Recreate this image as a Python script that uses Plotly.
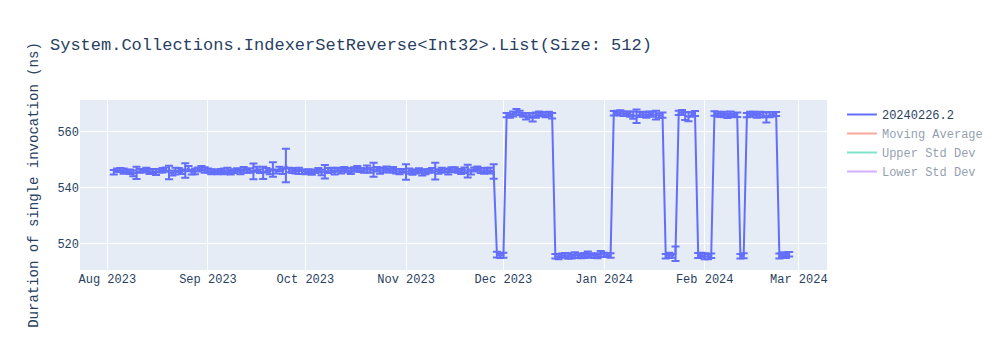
import plotly.graph_objects as go
import pandas as pd

# Dates of each benchmark run
dates = [
    "2023-08-03","2023-08-04","2023-08-05","2023-08-06","2023-08-07","2023-08-08","2023-08-09","2023-08-10",
    "2023-08-11","2023-08-12","2023-08-13","2023-08-14","2023-08-15","2023-08-16","2023-08-17","2023-08-18",
    "2023-08-19","2023-08-20","2023-08-21","2023-08-22","2023-08-23","2023-08-24","2023-08-25","2023-08-26",
    "2023-08-27","2023-08-28","2023-08-29","2023-08-30","2023-08-31",
    "2023-09-01","2023-09-02","2023-09-03","2023-09-04","2023-09-05","2023-09-06","2023-09-07","2023-09-08",
    "2023-09-09","2023-09-10","2023-09-11","2023-09-12","2023-09-13","2023-09-14","2023-09-15","2023-09-16",
    "2023-09-17","2023-09-18","2023-09-19","2023-09-20","2023-09-21","2023-09-22","2023-09-23","2023-09-24",
    "2023-09-25","2023-09-26","2023-09-27","2023-09-28","2023-09-29","2023-09-30",
    "2023-10-01","2023-10-02","2023-10-03","2023-10-04","2023-10-05","2023-10-06","2023-10-07","2023-10-08",
    "2023-10-09","2023-10-10","2023-10-11","2023-10-12","2023-10-13","2023-10-14","2023-10-15","2023-10-16",
    "2023-10-17","2023-10-18","2023-10-19","2023-10-20","2023-10-21","2023-10-22","2023-10-23","2023-10-24",
    "2023-10-25","2023-10-26","2023-10-27","2023-10-28","2023-10-29","2023-10-30","2023-10-31",
    "2023-11-01","2023-11-02","2023-11-03","2023-11-04","2023-11-05","2023-11-06","2023-11-07","2023-11-08",
    "2023-11-09","2023-11-10","2023-11-11","2023-11-12","2023-11-13","2023-11-14","2023-11-15","2023-11-16",
    "2023-11-17","2023-11-18","2023-11-19","2023-11-20","2023-11-21","2023-11-22","2023-11-23","2023-11-24",
    "2023-11-25","2023-11-26","2023-11-27","2023-11-28",
    "2023-11-29","2023-11-30","2023-12-01",
    "2023-12-02","2023-12-03","2023-12-04","2023-12-05","2023-12-06","2023-12-07","2023-12-08","2023-12-09",
    "2023-12-10","2023-12-11","2023-12-12","2023-12-13","2023-12-14","2023-12-15","2023-12-16",
    "2023-12-17","2023-12-18","2023-12-19","2023-12-20","2023-12-21","2023-12-22","2023-12-23","2023-12-24",
    "2023-12-25","2023-12-26","2023-12-27","2023-12-28","2023-12-29","2023-12-30","2023-12-31","2024-01-01",
    "2024-01-02","2024-01-03",
    "2024-01-04","2024-01-05","2024-01-06","2024-01-07","2024-01-08","2024-01-09","2024-01-10","2024-01-11",
    "2024-01-12","2024-01-13","2024-01-14","2024-01-15","2024-01-16","2024-01-17","2024-01-18","2024-01-19",
    "2024-01-20","2024-01-21","2024-01-22","2024-01-23",
    "2024-01-24","2024-01-25","2024-01-26","2024-01-27","2024-01-28","2024-01-29",
    "2024-01-30","2024-01-31","2024-02-01","2024-02-02","2024-02-03",
    "2024-02-04","2024-02-05","2024-02-06","2024-02-07","2024-02-08","2024-02-09","2024-02-10","2024-02-11",
    "2024-02-12","2024-02-13",
    "2024-02-14","2024-02-15","2024-02-16","2024-02-17","2024-02-18","2024-02-19","2024-02-20","2024-02-21",
    "2024-02-22","2024-02-23",
    "2024-02-24","2024-02-25","2024-02-26","2024-02-27",
]

# Mean duration (ns)
values = [
    # Aug
    545.6,546.3,546.4,546.0,545.9,545.8,545.2,545.4,546.1,546.2,546.4,545.9,546.0,545.7,546.1,546.3,
    546.6,545.5,545.3,546.0,546.4,545.8,546.2,546.9,545.6,545.9,546.6,547.0,546.4,
    # Sep
    546.2,545.8,546.0,545.7,546.1,545.9,546.3,545.6,546.0,546.4,545.8,546.5,546.1,546.2,545.9,546.7,
    546.0,545.4,546.3,545.8,546.6,545.9,546.8,546.0,548.0,546.4,546.2,545.9,546.1,545.8,
    # Oct
    545.7,546.0,545.6,545.9,546.3,545.5,545.8,546.2,546.4,545.9,546.5,546.1,546.7,546.3,546.0,546.6,
    546.9,546.4,546.2,546.8,546.3,546.5,546.7,546.1,546.4,546.9,546.2,546.5,546.0,545.8,546.1,
    # Nov
    545.7,546.0,545.5,545.9,546.2,545.4,545.8,546.1,546.3,546.0,545.9,546.4,546.2,545.8,546.5,546.6,
    546.1,545.9,546.3,546.0,545.7,546.6,546.9,546.2,546.0,546.4,546.2,545.9,
    516.2,515.8,516.0,
    566.0,565.8,566.4,567.2,566.8,566.1,565.6,565.9,565.2,566.0,566.5,566.3,566.1,566.4,565.8,
    515.6,515.4,515.9,516.0,515.7,515.5,516.1,515.8,515.6,515.9,516.3,515.9,515.7,515.8,516.4,516.1,
    516.0,515.9,
    566.7,566.9,566.8,566.5,566.6,566.3,566.0,565.6,566.2,566.4,566.1,566.5,566.3,566.0,565.9,566.0,
    515.6,516.0,515.8,516.5,
    566.8,566.9,565.7,565.4,566.2,566.6,
    515.9,516.1,515.6,515.4,515.8,
    566.6,566.3,566.0,566.2,565.8,566.4,565.9,566.1,
    515.6,515.8,
    566.0,566.3,566.5,565.9,566.2,566.1,565.2,566.1,566.3,566.4,
    515.7,516.2,515.9,516.3,
]

# Error (ns)
errors = [
    0.8,0.6,0.7,0.9,0.6,0.8,1.0,2.2,0.7,0.6,0.8,0.9,0.7,1.1,0.6,0.8,
    0.7,2.4,0.9,1.2,0.7,0.8,2.6,0.9,0.8,1.0,0.7,0.8,1.0,
    0.7,0.9,0.6,0.8,0.7,1.0,0.9,0.8,0.7,0.6,0.9,1.0,0.7,0.8,2.8,0.9,
    0.7,2.2,0.8,0.9,2.6,0.7,0.8,1.0,6.0,0.8,0.9,0.7,1.1,0.8,
    0.8,0.7,0.9,0.6,0.8,1.0,2.4,0.9,0.8,1.1,0.7,0.9,0.8,0.7,1.0,0.8,
    0.9,0.7,0.8,1.2,0.9,2.5,0.8,1.0,0.9,0.8,0.7,1.0,0.8,0.9,0.7,
    2.8,0.9,0.8,0.7,0.8,1.0,0.9,0.7,0.8,3.0,0.8,0.8,0.7,1.0,0.9,0.8,
    0.7,0.9,1.0,2.3,0.9,0.7,0.8,0.9,0.9,0.8,1.0,2.6,
    1.0,0.8,0.9,
    0.8,0.7,0.9,1.0,0.8,0.7,1.2,0.8,1.5,0.9,0.8,0.7,0.9,0.8,1.0,
    0.8,0.9,0.7,0.8,1.0,0.7,0.9,0.8,0.7,0.9,1.0,0.8,0.7,0.9,1.1,0.8,
    0.7,0.8,
    0.8,0.7,0.9,0.8,0.7,0.9,1.3,2.4,0.9,0.8,1.0,0.8,0.9,1.6,0.8,0.9,
    0.8,0.9,0.7,2.6,
    0.8,0.9,1.4,1.6,0.8,0.9,
    0.9,0.8,1.1,0.9,0.8,
    0.8,0.9,0.7,1.0,0.8,0.9,0.7,0.8,
    0.8,0.9,
    0.8,0.9,0.7,0.8,1.0,0.9,1.8,0.9,0.8,0.7,
    0.9,0.8,0.9,0.8,
]

series_name = "20240226.2"
title_text = "System.Collections.IndexerSetReverse<Int32>.List(Size: 512)"
y_title = "Duration of single invocation (ns)"

s = pd.Series(values)
mov_avg = s.rolling(10, min_periods=1).mean()
mov_std = s.rolling(10, min_periods=1).std().fillna(0)
upper = mov_avg + 2 * mov_std
lower = mov_avg - 2 * mov_std

fig = go.Figure()
fig.add_trace(go.Scatter(
    x=dates, y=values, mode="lines", name=series_name,
    error_y=dict(type="data", array=errors, visible=True),
))
fig.add_trace(go.Scatter(x=dates, y=mov_avg, mode="lines", name="Moving Average", visible="legendonly"))
fig.add_trace(go.Scatter(x=dates, y=upper, mode="lines", name="Upper Std Dev", visible="legendonly"))
fig.add_trace(go.Scatter(x=dates, y=lower, mode="lines", name="Lower Std Dev", visible="legendonly"))

fig.update_layout(
    width=1000, height=350,
    title=dict(text=title_text),
    font=dict(family="Courier New, monospace"),
    xaxis=dict(range=["2023-07-23 14:00", "2024-03-09 16:00"]),
    yaxis=dict(title=dict(text=y_title), range=[510.7, 571.4]),
)
fig.write_html("out.html")
